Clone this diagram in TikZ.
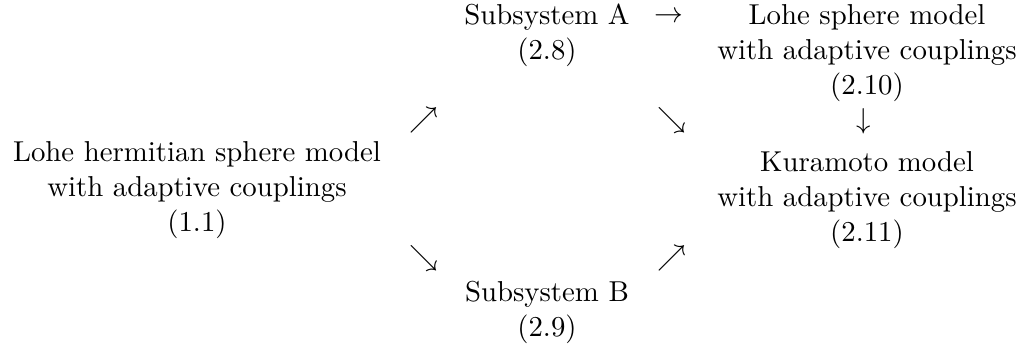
\documentclass[tikz,border=0pt]{standalone}
\begin{document}
\begin{tikzpicture}[x=0.3472pt,y=-0.3472pt,
  box/.style={inner sep=0pt,outer sep=0pt,anchor=base},
  glyph/.style={inner sep=0pt,outer sep=0pt,anchor=center}]
\useasboundingbox (0,0) rectangle (1020,348);
\node[box] (lhs) at (197,162) {\begin{tabular}[t]{@{}c@{}}Lohe hermitian sphere model\\ with adaptive couplings\\ (1.1)\end{tabular}};
\node[box] (subA) at (547,25) {\begin{tabular}[t]{@{}c@{}}Subsystem A\\ (2.8)\end{tabular}};
\node[box] (lsm) at (867,25) {\begin{tabular}[t]{@{}c@{}}Lohe sphere model\\ with adaptive couplings\\ (2.10)\end{tabular}};
\node[box] (kur) at (867,172) {\begin{tabular}[t]{@{}c@{}}Kuramoto model\\ with adaptive couplings\\ (2.11)\end{tabular}};
\node[box] (subB) at (547,302) {\begin{tabular}[t]{@{}c@{}}Subsystem B\\ (2.9)\end{tabular}};
\node[glyph] (a1) at (423.5,120.5) {$\nearrow$};
\node[glyph] (a2) at (423.5,258.5) {$\searrow$};
\node[glyph] (a3) at (669,17) {$\rightarrow$};
\node[glyph] (a4) at (671.5,120.5) {$\searrow$};
\node[glyph] (a5) at (671.5,258.5) {$\nearrow$};
\node[glyph] (a6) at (864,121.5) {$\downarrow$};
\end{tikzpicture}
\end{document}
